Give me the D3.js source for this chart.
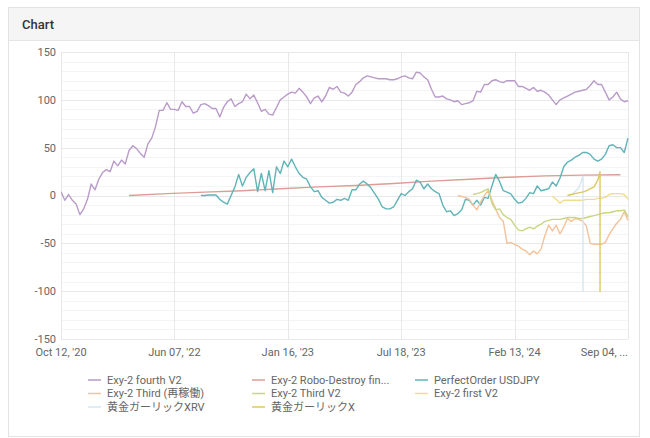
<!DOCTYPE html>
<html>
<head>
<meta charset="utf-8">
<script src="https://cdn.jsdelivr.net/npm/d3@7"></script>
<style>
  body { margin: 0; background: #fff; }
</style>
</head>
<body>
<div id="chart"></div>
<script>
// axis labels (category axis, evenly spaced dates)
const xTickIdx = [0, 30, 60, 90, 120, 150];
const xTickLabels = ["Oct 12, '20", "Jun 07, '22", "Jan 16, '23", "Jul 18, '23", "Feb 13, '24", "Sep 04, ..."];
const yTicks = [-150, -100, -50, 0, 50, 100, 150];

// series values
const fourthV2 = [ // from index 0
  4,-5,1,-5,-9,-20,-14,-4,12,6, 17,24,27,25,36,31,37,33,47,52,
  49,44,40,54,60,72,89,89,97,90, 90,89,98,93,93,86,88,95,96,94,
  91,91,82,92,98,101,93,96,98,106, 101,105,97,88,90,85,84,92,100,103,
  106,108,107,112,108,103,96,102,104,98, 104,113,111,114,108,107,104,108,116,119,
  123,125,124,123,122,122,122,121,121,122, 124,125,123,122,129,128,124,121,111,103,
  103,104,101,100,98,99,95,96,97,99, 109,108,116,116,120,121,119,118,120,120,
  120,114,114,112,110,113,109,110,108,105, 100,95,100,102,104,106,108,109,110,111,
  115,120,116,116,108,100,103,108,101,98, 99
];
const roboDestroy = [0,2,3.5,5,7,9,10.5,12.5,15,17,19,20.5,21.3,21.7]; // from 18, every 10
const perfectOrder = [ // from 37
  0,0,0.5,0.5,0.5,-4,-7,-9,0,9,22,10,19,
  24,28,4,23,5,26,3,30,23,36, 30,38,30,23,19,17,9,4,5,-2,
  -5,-8,-7,-4,-5,-3,-5,6,6,12, 15,12,8,2,-4,-12,-14,-14,-12,-5,
  2,0,4,7,16,14,7,12,7,4,
  2,-10,-17,-16,-21,-19,-15,-4,-5,-10, -5,-10,-2,-3,10,22,15,5,3.5,1.7,
  -4,-8,-7,-3,3,2,10,5,6,7, 14,10,18,30,35,37,40,42,45,45,
  43,38,36,38,43,52,53,50,50,45, 60
];
const thirdRestart = [ // from 105
  0,-1,-2,-4,-10,-15,-7,0,5,-5, -14,-23,-27,-50,-49,-51,-53,-56,-58,-62,
  -58,-61,-56,-42,-31,-37,-31,-40,-33,-24, -27,-24,-25,-27,-32,-50,-51,-51,-51,-49,
  -41,-35,-29,-25,-17,-26
];
const thirdV2 = [ // from 109
  1,2,3,5,7,-8,-15,-14,-20,-23, -25,-31,-36,-37,-35,-33,-35,-32,-30,-27,
  -26,-25,-25,-25,-24,-23,-23,-23,-24,-24, -23,-22,-21,-20,-19,-18,-18,-17,-16,-16,
  -15,-22
];
const firstV2 = [-1,-4,-8,-5,-5,-5,-5,-5,-5,-4, -4,-4,-3,-3,-2,1,2,2,2,1, -4]; // from 130
const xrvIdx = [134, 135.5, 137, 138.1, 138.1];
const xrvVals = [0, 2, 8, 20, -101];
const garlicXIdx = [134, 136, 138.5, 141, 142, 142.6, 142.6];
const garlicXVals = [0, 2, 4, 9, 16, 25, -101];

const seriesNames = ["Exy-2 fourth V2", "Exy-2 Robo-Destroy fin...", "PerfectOrder USDJPY",
  "Exy-2 Third (再稼働)", "Exy-2 Third V2", "Exy-2 first V2", "黄金ガーリックXRV", "黄金ガーリックX"];
const seriesColors = ["#b99bc9", "#dc9d94", "#5fb4b8", "#f4c29a", "#c9d583", "#f1dc90", "#d6e6f2", "#dcc865"];

function run(values, start, step) { return values.map((v, k) => [start + k * step, v]); }
function pairs(idx, vals) { return idx.map((d, k) => [d, vals[k]]); }

const seriesPts = [
  run(fourthV2, 0, 1),
  run(roboDestroy, 18, 10),
  run(perfectOrder, 37, 1),
  run(thirdRestart, 105, 1),
  run(thirdV2, 109, 1),
  run(firstV2, 130, 1),
  pairs(xrvIdx, xrvVals),
  pairs(garlicXIdx, garlicXVals)
];

const width = 650, height = 438;
const svg = d3.select("#chart").append("svg")
  .attr("width", width).attr("height", height)
  .style("display", "block");

// card
svg.append("rect").attr("x", 8.5).attr("y", 7.5).attr("width", 631).attr("height", 429)
  .attr("fill", "#fff").attr("stroke", "#e3e3e3");
svg.append("rect").attr("x", 9).attr("y", 8).attr("width", 630).attr("height", 32)
  .attr("fill", "#f5f5f5");
svg.append("line").attr("x1", 9).attr("x2", 639).attr("y1", 40.5).attr("y2", 40.5)
  .attr("stroke", "#e6e6e6");
svg.append("text").attr("x", 22).attr("y", 28.5)
  .attr("font-family", "Roboto, sans-serif").attr("font-size", 13).attr("font-weight", 500)
  .attr("fill", "#333").text("Chart");

const x = d3.scaleLinear().domain([0, 150]).range([61, 628]);
const y = d3.scaleLinear().domain([-150, 150]).range([339, 52]);

const g = svg.append("g");

// minor grid every 10
g.selectAll(".minor").data(d3.range(-140, 150, 10).filter(d => d % 50 !== 0))
  .enter().append("line")
  .attr("x1", x(0)).attr("x2", x(150))
  .attr("y1", d => Math.round(y(d)) + 0.5).attr("y2", d => Math.round(y(d)) + 0.5)
  .attr("stroke", "#f4f4f4");

g.selectAll(".major").data(yTicks)
  .enter().append("line")
  .attr("x1", x(0)).attr("x2", x(150))
  .attr("y1", d => Math.round(y(d)) + 0.5).attr("y2", d => Math.round(y(d)) + 0.5)
  .attr("stroke", "#e8e8e8");

g.selectAll(".vgrid").data(xTickIdx)
  .enter().append("line")
  .attr("x1", d => Math.round(x(d)) + 0.5).attr("x2", d => Math.round(x(d)) + 0.5)
  .attr("y1", y(150)).attr("y2", y(-150))
  .attr("stroke", "#e8e8e8");

g.selectAll(".ylab").data(yTicks)
  .enter().append("text")
  .attr("x", 56).attr("y", d => y(d)).attr("dy", "0.35em")
  .attr("text-anchor", "end")
  .attr("font-family", "Roboto, sans-serif").attr("font-size", 11)
  .attr("fill", "#666").text(d => d);

g.selectAll(".xlab").data(xTickIdx)
  .enter().append("text")
  .attr("x", d => x(d)).attr("y", 356)
  .attr("text-anchor", (d, i) => i === xTickIdx.length - 1 ? "end" : "middle")
  .attr("font-family", "Roboto, sans-serif").attr("font-size", 11)
  .attr("fill", "#666").text((d, i) => xTickLabels[i]);

svg.append("clipPath").attr("id", "plotClip").append("rect")
  .attr("x", x(0)).attr("y", y(150) - 2).attr("width", x(150) - x(0) + 2).attr("height", y(-150) - y(150) + 4);

const line = d3.line().x(d => x(d[0])).y(d => y(d[1]));

g.append("g").attr("clip-path", "url(#plotClip)")
  .selectAll("path").data(seriesPts)
  .enter().append("path")
  .attr("d", line)
  .attr("fill", "none")
  .attr("stroke", (d, i) => seriesColors[i])
  .attr("stroke-width", 1.4)
  .attr("stroke-linejoin", "round");

// legend, 3 columns
const legCols = [88, 252, 415];
const legend = svg.selectAll(".leg").data(seriesNames)
  .enter().append("g")
  .attr("transform", (d, i) => "translate(" + legCols[i % 3] + "," + (380 + Math.floor(i / 3) * 13.5) + ")");

legend.append("line")
  .attr("x1", 0).attr("x2", 13).attr("y1", 0).attr("y2", 0)
  .attr("stroke", (d, i) => seriesColors[i]).attr("stroke-width", 1.5);

legend.append("text")
  .attr("x", 19).attr("dy", "0.35em")
  .attr("font-family", "Roboto, 'Noto Sans CJK JP', sans-serif").attr("font-size", 11)
  .attr("fill", "#666").text(d => d);
</script>
</body>
</html>
